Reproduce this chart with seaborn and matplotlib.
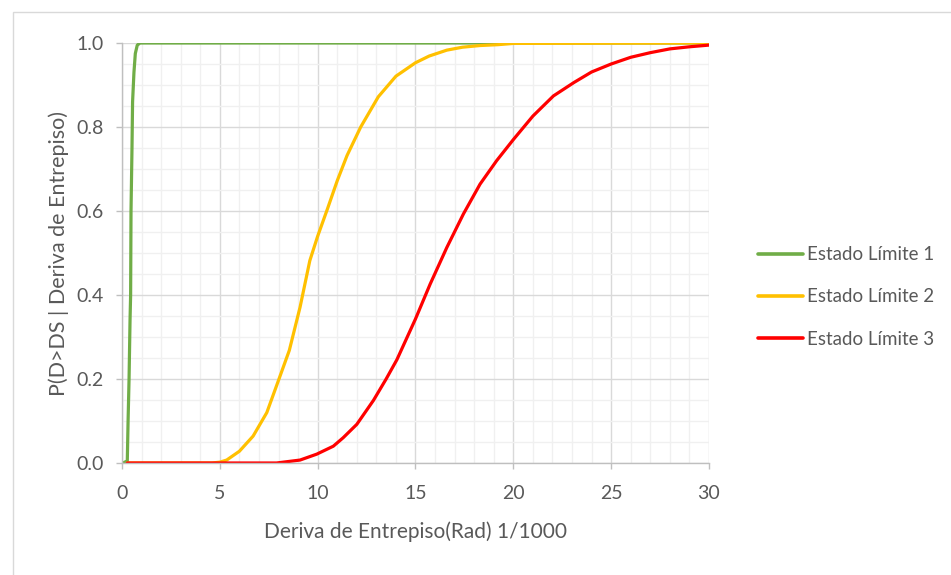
import numpy as np
import pandas as pd
import matplotlib
matplotlib.use("Agg")
import matplotlib.pyplot as plt
from matplotlib.patches import Rectangle
from matplotlib.ticker import MultipleLocator
import seaborn as sns

# Values
ls1_x = [0.05, 0.27, 0.31, 0.36, 0.41, 0.44, 0.46, 0.51, 0.54, 0.61, 0.68, 0.78, 0.92, 30.0]
ls1_y = [0.0, 0.005, 0.10, 0.20, 0.34, 0.40, 0.60, 0.75, 0.86, 0.93, 0.975, 0.995, 1.0, 1.0]

ls2_x = [0.27, 4.6, 5.0, 5.35, 6.0, 6.7, 7.4, 8.0, 8.55, 9.1, 9.6, 10.0, 10.5, 11.0, 11.5,
         12.2, 13.1, 14.0, 15.0, 15.7, 16.6, 17.4, 18.3, 19.2, 20.0, 30.0]
ls2_y = [0.0, 0.0, 0.002, 0.007, 0.028, 0.064, 0.12, 0.197, 0.268, 0.371, 0.482, 0.54, 0.605,
         0.672, 0.732, 0.80, 0.872, 0.921, 0.953, 0.969, 0.983, 0.99, 0.994, 0.996, 0.999, 1.0]

ls3_x = [0.27, 7.9, 9.1, 9.95, 10.8, 11.3, 12.0, 12.85, 13.5, 14.05, 15.0, 15.75, 16.6, 17.45,
         18.3, 19.15, 20.0, 21.0, 22.05, 23.1, 24.0, 25.0, 26.0, 27.0, 28.0, 29.0, 30.0]
ls3_y = [0.0, 0.0, 0.007, 0.021, 0.040, 0.060, 0.092, 0.149, 0.20, 0.246, 0.343, 0.426, 0.513,
         0.593, 0.664, 0.72, 0.770, 0.826, 0.874, 0.906, 0.931, 0.95, 0.966, 0.977, 0.986,
         0.991, 0.995]

labels = ["Estado Límite 1", "Estado Límite 2", "Estado Límite 3"]
colors = ["#70AD47", "#FFC000", "#FF0000"]

df = pd.concat([
    pd.DataFrame({"x": ls1_x, "y": ls1_y, "serie": labels[0]}),
    pd.DataFrame({"x": ls2_x, "y": ls2_y, "serie": labels[1]}),
    pd.DataFrame({"x": ls3_x, "y": ls3_y, "serie": labels[2]}),
], ignore_index=True)

sns.set_theme(style="white")
plt.rcParams["font.family"] = ["Lato", "DejaVu Sans"]

fig = plt.figure(figsize=(9.51, 5.75), dpi=100)
ax = fig.add_axes([0.1283, 0.1948, 0.6172, 0.7304])

sns.lineplot(data=df, x="x", y="y", hue="serie", palette=colors, sort=False,
             estimator=None, linewidth=2.3, ax=ax)

ax.set_xlim(0, 30)
ax.set_ylim(0, 1)
ax.xaxis.set_major_locator(MultipleLocator(5))
ax.xaxis.set_minor_locator(MultipleLocator(1))
ax.yaxis.set_major_locator(MultipleLocator(0.2))
ax.yaxis.set_minor_locator(MultipleLocator(0.05))
ax.yaxis.set_major_formatter(plt.FormatStrFormatter("%.1f"))
ax.grid(which="major", color="#D9D9D9", linewidth=1.0)
ax.grid(which="minor", color="#F0F0F0", linewidth=1.0)
ax.set_axisbelow(True)

for side in ["top", "right"]:
    ax.spines[side].set_visible(False)
for side in ["left", "bottom"]:
    ax.spines[side].set_color("#BFBFBF")
    ax.spines[side].set_linewidth(1.0)

ax.tick_params(which="major", direction="out", length=4.5, width=1.0, color="#BFBFBF",
               labelsize=14, labelcolor="#595959")
ax.tick_params(axis="x", pad=11)
ax.tick_params(axis="y", pad=9)
ax.tick_params(which="minor", length=0)
ax.tick_params(left=True, bottom=True)

ax.set_xlabel("Deriva de Entrepiso(Rad) 1/1000", fontsize=15, color="#595959", labelpad=14)
ax.set_ylabel("P(D>DS | Deriva de Entrepiso)", fontsize=15.5, color="#595959", labelpad=5)

leg = ax.legend(loc="center left", bbox_to_anchor=(0.787, 0.4835),
                bbox_transform=fig.transFigure, frameon=False, fontsize=13.5,
                handlelength=2.4, handletextpad=0.25, labelspacing=1.35, borderpad=0)
for t in leg.get_texts():
    t.set_color("#595959")
for h in leg.get_lines():
    h.set_linewidth(2.6)

fig.patches.append(Rectangle((13 / 951, -0.05), 1.2, 1 - 12 / 575 + 0.05,
                             transform=fig.transFigure, fill=False,
                             edgecolor="#D9D9D9", linewidth=1.0, clip_on=False))

fig.savefig("out.png", dpi=100)
